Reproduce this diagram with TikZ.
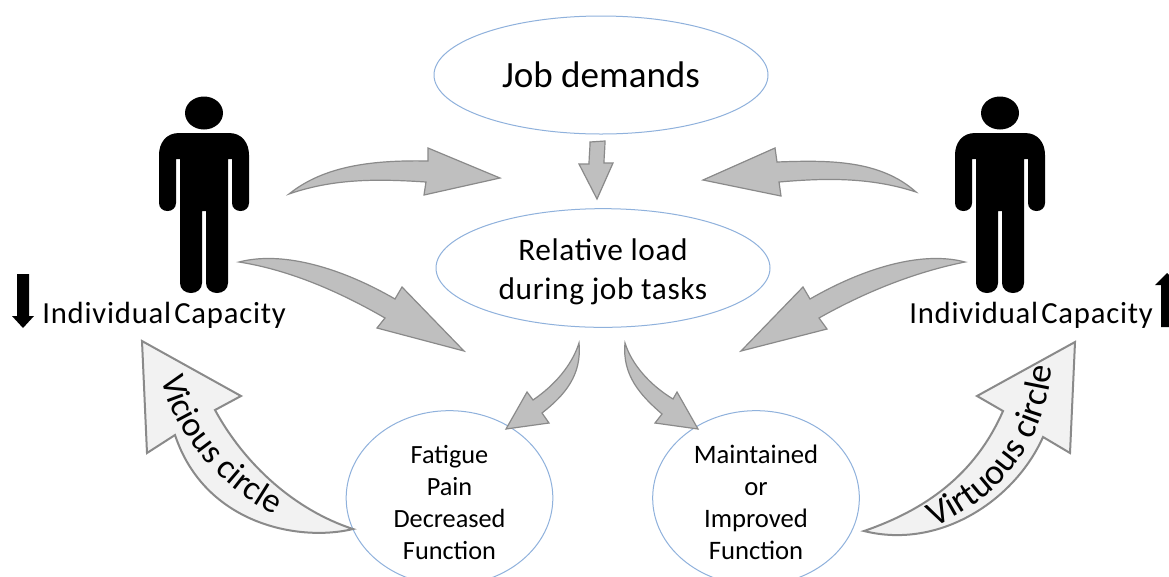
\documentclass[tikz,border=0pt]{standalone}
\usepackage{fontspec}
\setmainfont{Carlito}
\newfontfamily\capfamily[LetterSpace=2.6]{Carlito}
\newfontfamily\loadfamily[LetterSpace=2]{Carlito}
\usetikzlibrary{shapes.geometric,decorations.text}
\definecolor{ovalblue}{HTML}{8FB1DC}
\definecolor{blockgray}{HTML}{BFBFBF}
\definecolor{blockedge}{HTML}{8A8A8A}
\definecolor{circfill}{HTML}{F2F2F2}
\newcommand{\capfont}{\capfamily\fontsize{23}{27}\selectfont\spaceskip 0.1em\relax}
\newcommand{\toppad}[1]{\rule{0pt}{#1}}
\tikzset{
  x=0.75pt,y=-0.75pt,
  oval/.style={draw=ovalblue,line width=0.75pt,ellipse,inner sep=0pt,align=center,text=black},
  block/.style={fill=blockgray,draw=blockedge,line width=0.9pt,line join=miter},
  circarrow/.style={fill=circfill,draw=blockedge,line width=1.5pt,line join=miter},
  captext/.style={inner sep=0pt,anchor=base west,font=\capfont},
  person/.pic={
    \fill[black] (204,113) ellipse [x radius=19,y radius=16.5];
    \fill[black] (179,133) -- (229,133)
      .. controls (242,133) and (249,143) .. (249,155)
      -- (249,203) .. controls (249,208) and (245,211) .. (240.5,211)
      .. controls (236,211) and (232,208) .. (232,203)
      -- (232,159) -- (228,159) -- (228,283)
      .. controls (228,289) and (223,293) .. (217,293)
      .. controls (211,293) and (206,289) .. (206,283)
      -- (206,211) -- (202,211) -- (202,283)
      .. controls (202,289) and (197,293) .. (191,293)
      .. controls (185,293) and (180,289) .. (180,283)
      -- (180,159) -- (176,159) -- (176,203)
      .. controls (176,208) and (172,211) .. (167.5,211)
      .. controls (163,211) and (159,208) .. (159,203)
      -- (159,155) .. controls (159,143) and (166,133) .. (179,133) -- cycle;
  }
}
\begin{document}
\begin{tikzpicture}
\useasboundingbox (0,0) rectangle (1169,576);
\fill[white] (0,0) rectangle (1169,576);

% ovals
\node[oval,minimum width=250.5pt,minimum height=88.5pt,font=\fontsize{27.8}{34}\selectfont] (demands) at (601,75) {Job demands};
\node[oval,minimum width=250.5pt,minimum height=89pt,font=\loadfamily\fontsize{23.5}{29.25}\selectfont] (load) at (603,268) {\toppad{21.7pt}Relative load\\during job tasks};
\node[oval,minimum width=155pt,minimum height=114pt,font=\fontsize{19.7}{24}\selectfont] (fatigue) at (449.5,498) {\toppad{20.5pt}Fatigue\\Pain\\Decreased\\Function};
\node[oval,minimum width=155pt,minimum height=114pt,font=\fontsize{20}{24}\selectfont] (maintained) at (756,498) {\toppad{20.5pt}Maintained\\or\\Improved\\Function};

% people
\pic (manL) at (0,0) {person};
\pic (manR) at (796,0) {person};

% block arrows
\draw[block] (289,194) .. controls (325,165) and (375,160) .. (428,161) -- (428,148) -- (500,178) -- (424,195) -- (426,182) .. controls (380,179) and (335,178) .. cycle;
\draw[block] (239,262) .. controls (285,250) and (345,270) .. (395,299) -- (402,287) -- (464,351) -- (377,328) -- (385,318) .. controls (340,292) and (290,270) .. cycle;
\draw[block] (916,192) .. controls (880,160) and (830,160) .. (777,162) -- (775,148) -- (703,180) -- (781,196) -- (779,182) .. controls (825,178) and (870,177) .. cycle;
\draw[block] (965,262) .. controls (920,250) and (860,270) .. (810,299) -- (803,287) -- (741,351) -- (827,329) -- (819,318) .. controls (865,292) and (915,272) .. cycle;
\draw[block] (590,142) .. controls (590,150) and (589,157) .. (589,164) -- (579,164) -- (597,199) -- (613,163) -- (604,163) .. controls (604,156) and (605,148) .. (605,141) -- cycle;
\draw[block] (579,343) .. controls (582,375) and (565,395) .. (542,413) -- (549,423) -- (506,429) -- (527,392) -- (533,400) .. controls (555,385) and (572,365) .. cycle;
\draw[block] (625,343) .. controls (622,375) and (640,395) .. (662,414) -- (655,423) -- (698,429) -- (677,392) -- (673,399) .. controls (650,385) and (632,365) .. cycle;

% capacity arrows
\fill[black] (17,274) -- (29,274) -- (29,316) -- (34,316) -- (23,328) -- (12,316) -- (17,316) -- cycle;
\fill[black] (1161,327) -- (1161,285) -- (1155,285) -- (1167,273) -- (1179,285) -- (1173,285) -- (1173,327) -- cycle;
\node[captext] (capL) at (42,323) {Individual Capacity};
\node[captext] (capR) at (909,323) {Individual Capacity};

% circle arrows
\draw[circarrow] (142,341) -- (241,396) -- (215,410) .. controls (245,465) and (295,510) .. (353,529) .. controls (300,542) and (205,525) .. (175,435) -- (147,453) -- cycle;
\draw[circarrow] (1075,342) -- (1070,453) -- (1043,437) .. controls (1015,500) and (940,550) .. (864,531) .. controls (925,510) and (975,475) .. (1003,411) -- (977,396) -- cycle;

\path[decorate,decoration={text along path,text align=left,text={|\fontsize{26}{30}\selectfont|Vicious circle}}]
  (162,378) .. controls (170,425) and (215,492) .. (295,524);
\path[decorate,decoration={text along path,text align=left,text={|\fontsize{27}{32}\selectfont|Virtuous circle}}]
  (934,527) .. controls (1000,497) and (1052,445) .. (1054,340);
\end{tikzpicture}
\end{document}
